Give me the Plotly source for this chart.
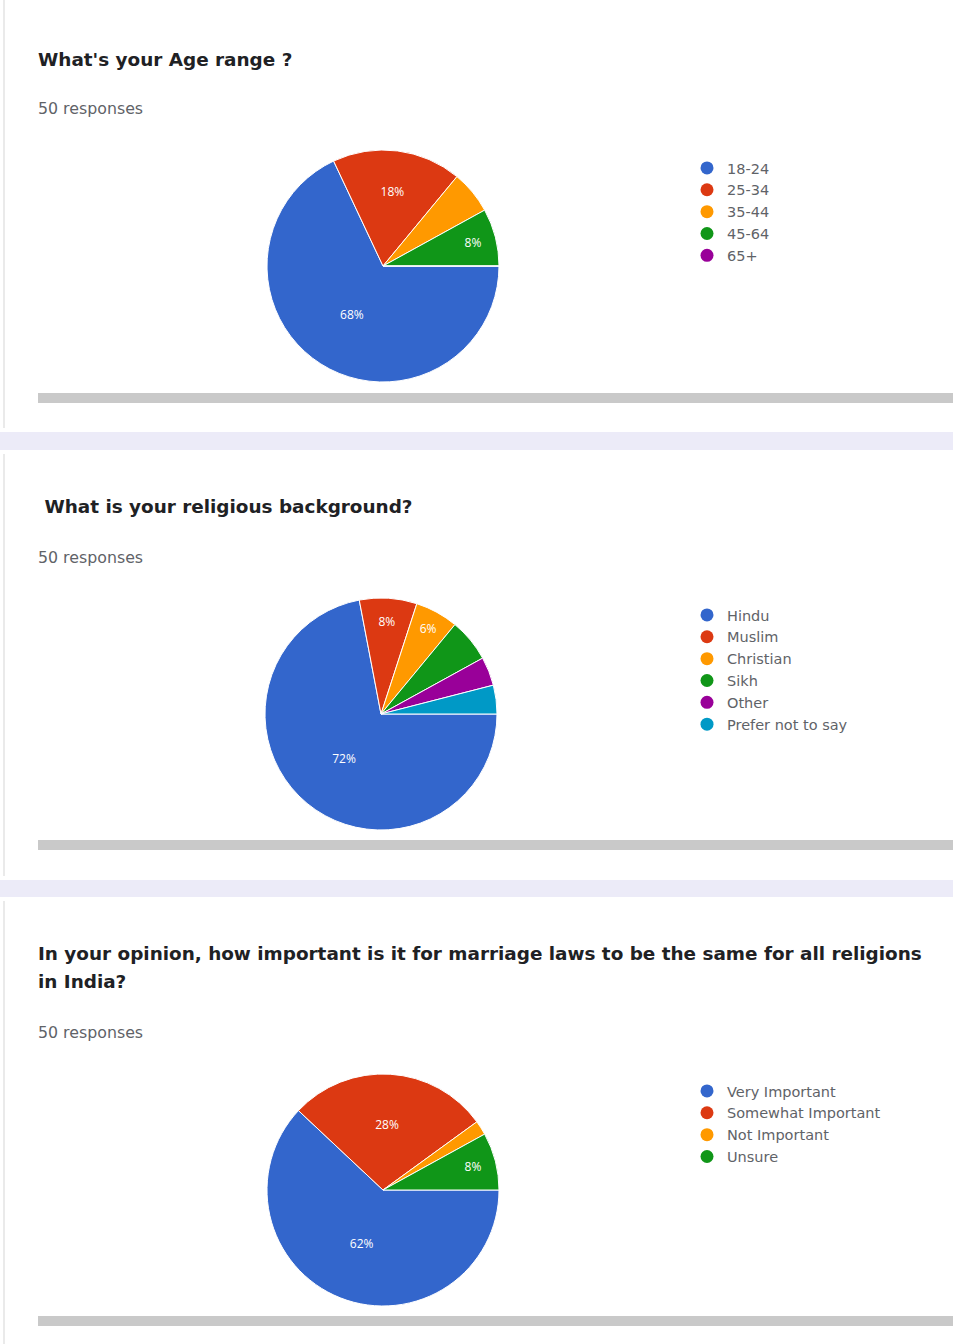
import plotly.graph_objects as go

W, H = 953, 1344

# ---------------- data ----------------
age_labels = ["18-24", "25-34", "35-44", "45-64", "65+"]
age_values = [34, 9, 3, 4, 0]
age_show = [True, True, False, True, False]

rel_labels = ["Hindu", "Muslim", "Christian", "Sikh", "Other", "Prefer not to say"]
rel_values = [36, 4, 3, 3, 2, 2]
rel_show = [True, True, True, False, False, False]

imp_labels = ["Very Important", "Somewhat Important", "Not Important", "Unsure"]
imp_values = [31, 14, 1, 4]
imp_show = [True, True, False, True]

colors = ["#3366cc", "#dc3912", "#ff9900", "#109618", "#990099", "#0099c6"]

titles = ["What's your Age range ?", " What is your religious background?",
          "In your opinion, how important is it for marriage laws to be the same for all religions",
          "in India?"]
resp_text = "50 responses"

# ---------------- helpers ----------------
def fx(px):
    return px / W

def fy(py):
    return 1 - py / H

FONT = "Open Sans, Roboto, Arial, sans-serif"
WIDE = "DejaVu Sans, Open Sans, sans-serif"

fig = go.Figure()

charts = [
    (age_labels, age_values, age_show, 266, 383, "legend"),
    (rel_labels, rel_values, rel_show, 714, 381, "legend2"),
    (imp_labels, imp_values, imp_show, 1190, 383, "legend3"),
]

R = 116
for labels, values, show, cy, cx, leg in charts:
    fig.add_trace(go.Pie(
        labels=labels, values=values, sort=False, direction="clockwise", rotation=90,
        marker=dict(colors=colors[:len(labels)], line=dict(color="white", width=1)),
        texttemplate=["%{percent:.0%}" if s else "" for s in show],
        textposition="inside", insidetextorientation="horizontal",
        textfont=dict(color="white", size=12, family=FONT),
        domain=dict(x=[fx(cx - R), fx(cx + R)], y=[fy(cy + R), fy(cy - R)]),
        showlegend=False, hoverinfo="label+percent",
    ))
    for lab, col in zip(labels, colors):
        fig.add_trace(go.Scatter(
            x=[None], y=[None], mode="markers", name=lab,
            marker=dict(color=col, size=13, symbol="circle"),
            legend=leg, showlegend=True,
        ))

legend_common = dict(
    xanchor="left", yanchor="top", bgcolor="rgba(0,0,0,0)",
    font=dict(size=14.5, color="#5f6368", family=WIDE), itemsizing="trace",
    itemclick=False, itemdoubleclick=False,
)
fig.update_layout(
    legend=dict(x=fx(687), y=fy(152), **legend_common),
    legend2=dict(x=fx(687), y=fy(599), **legend_common),
    legend3=dict(x=fx(687), y=fy(1075), **legend_common),
)

# ---------------- page decoration ----------------
shapes = []
# lavender gaps between cards
for y0, y1 in [(432, 450), (880, 897)]:
    shapes.append(dict(type="rect", xref="paper", yref="paper", x0=0, x1=1,
                       y0=fy(y1), y1=fy(y0), fillcolor="#ecebf8", line=dict(width=0), layer="below"))
# card left borders
for y0, y1 in [(0, 428), (454, 876), (901, 1344)]:
    shapes.append(dict(type="line", xref="paper", yref="paper", x0=fx(4), x1=fx(4),
                       y0=fy(y1), y1=fy(y0), line=dict(color="#e3e3e3", width=1.5)))
# gray scroll bars
for yc in [398, 845, 1321]:
    shapes.append(dict(type="rect", xref="paper", yref="paper", x0=fx(38), x1=1,
                       y0=fy(yc + 5), y1=fy(yc - 5), fillcolor="#c9c9c9", line=dict(width=0)))

ann = []
title_pos = [(36, 59, titles[0]), (36, 506, titles[1]), (36, 953, titles[2]), (36, 981, titles[3])]
for x, y, t in title_pos:
    ann.append(dict(text="<b>" + t + "</b>", x=fx(x), y=fy(y), xref="paper", yref="paper",
                    xanchor="left", yanchor="middle", showarrow=False,
                    font=dict(size=18.4, color="#202124", family=WIDE)))
for y in [109, 557, 1032]:
    ann.append(dict(text=resp_text, x=fx(36), y=fy(y), xref="paper", yref="paper",
                    xanchor="left", yanchor="middle", showarrow=False,
                    font=dict(size=15.8, color="#5f6368", family=WIDE)))

fig.update_layout(
    width=W, height=H, margin=dict(l=0, r=0, t=0, b=0),
    paper_bgcolor="white", plot_bgcolor="white",
    xaxis=dict(visible=False), yaxis=dict(visible=False),
    shapes=shapes, annotations=ann,
)

fig.write_html("out.html")
